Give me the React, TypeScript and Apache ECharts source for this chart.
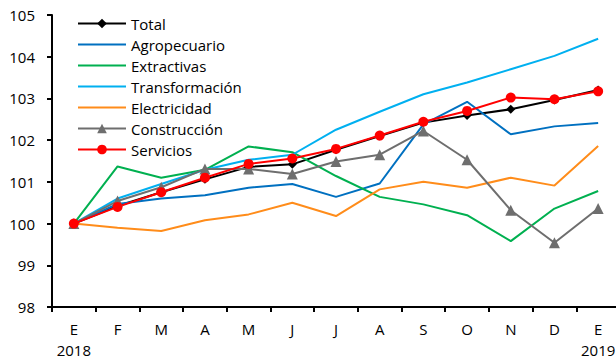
import React, { useEffect, useRef } from "react";
import * as echarts from "echarts";

const months = ["E\n2018", "F", "M", "A", "M", "J", "J", "A", "S", "O", "N", "D", "E\n2019"];
const total = [100.0, 100.42, 100.75, 101.06, 101.36, 101.42, 101.77, 102.1, 102.42, 102.59, 102.74, 102.96, 103.2];
const agropecuario = [100.0, 100.47, 100.6, 100.68, 100.86, 100.95, 100.64, 100.96, 102.38, 102.92, 102.14, 102.33, 102.41];
const extractivas = [100.0, 101.37, 101.1, 101.29, 101.85, 101.71, 101.14, 100.64, 100.46, 100.2, 99.58, 100.36, 100.78];
const transformacion = [100.0, 100.6, 100.95, 101.29, 101.53, 101.65, 102.25, 102.68, 103.1, 103.38, 103.7, 104.02, 104.43];
const electricidad = [100.0, 99.9, 99.82, 100.08, 100.22, 100.5, 100.18, 100.82, 101.0, 100.86, 101.1, 100.91, 101.86];
const construccion = [100.0, 100.54, 100.87, 101.31, 101.31, 101.19, 101.49, 101.65, 102.22, 101.53, 100.32, 99.54, 100.36];
const servicios = [100.0, 100.4, 100.75, 101.1, 101.43, 101.56, 101.79, 102.11, 102.44, 102.7, 103.02, 102.98, 103.17];

const FONT = "'Open Sans', 'Noto Sans', sans-serif";

export default function App() {
  const ref = useRef<HTMLDivElement>(null);
  useEffect(() => {
    if (!ref.current) return;
    const chart = echarts.init(ref.current, undefined, { renderer: "svg" });
    const line = (name: string, data: number[], color: string, symbol: string, size: number) => ({
      name,
      type: "line",
      data,
      symbol,
      symbolSize: size,
      showSymbol: symbol !== "none",
      lineStyle: { color, width: 2 },
      itemStyle: { color: symbol === "none" ? "rgba(0,0,0,0)" : color },
      emphasis: { disabled: true },
    });
    const hidden = { opacity: 0 };
    chart.setOption({
      animation: false,
      textStyle: { fontFamily: FONT },
      grid: { left: 52, top: 15, right: 4, bottom: 50 },
      legend: {
        orient: "vertical",
        left: 72,
        top: 11,
        itemWidth: 48,
        itemHeight: 12,
        itemGap: 6,
        textStyle: { fontFamily: FONT, fontSize: 15, color: "#000" },
        data: [
          { name: "Total" },
          { name: "Agropecuario", itemStyle: hidden },
          { name: "Extractivas", itemStyle: hidden },
          { name: "Transformación", itemStyle: hidden },
          { name: "Electricidad", itemStyle: hidden },
          { name: "Construcción" },
          { name: "Servicios" },
        ],
      },
      xAxis: {
        type: "category",
        data: months,
        boundaryGap: true,
        axisLine: { lineStyle: { color: "#000", width: 2 } },
        axisTick: { show: true, length: 5, lineStyle: { color: "#000", width: 2 } },
        axisLabel: { color: "#000", fontSize: 15, fontFamily: FONT, lineHeight: 21, margin: 11, interval: 0 },
      },
      yAxis: {
        type: "value",
        min: 98,
        max: 105,
        interval: 1,
        axisLine: { show: true, lineStyle: { color: "#000", width: 2 } },
        axisTick: { show: true, length: 5, lineStyle: { color: "#000", width: 2 } },
        splitLine: { show: false },
        axisLabel: { color: "#000", fontSize: 15, fontFamily: FONT, margin: 17 },
      },
      series: [
        line("Total", total, "#000000", "diamond", 9),
        line("Agropecuario", agropecuario, "#0070C0", "none", 0),
        line("Extractivas", extractivas, "#00B050", "none", 0),
        line("Transformación", transformacion, "#00B0F0", "none", 0),
        line("Electricidad", electricidad, "#FF8C1A", "none", 0),
        line("Construcción", construccion, "#6E6E6E", "triangle", 11),
        line("Servicios", servicios, "#FF0000", "circle", 10),
      ],
    });
    return () => chart.dispose();
  }, []);
  return (
    <div style={{ position: "fixed", left: 0, top: 0, width: 616, height: 360, overflow: "hidden", background: "#fff" }}>
      <div ref={ref} style={{ width: 624, height: 360 }} />
    </div>
  );
}
